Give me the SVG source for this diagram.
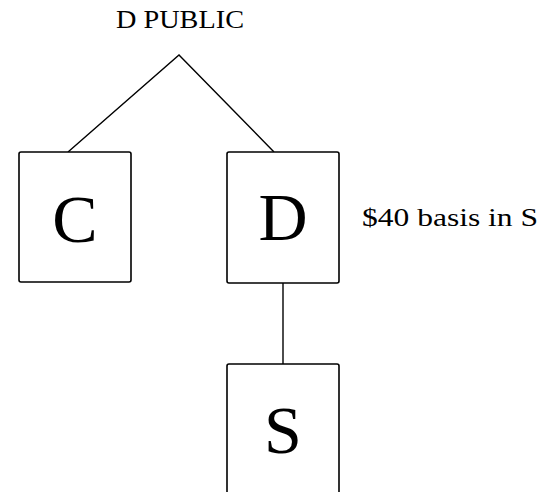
<svg xmlns="http://www.w3.org/2000/svg" width="542" height="492" viewBox="0 0 542 492">
<style>
.box{fill:#fff;stroke:#000;stroke-width:1.6}
.ln{fill:none;stroke:#000;stroke-width:1.4}
.big{font-family:"Liberation Serif",serif;font-size:68px;text-anchor:middle;fill:#000}
.lbl{font-family:"Liberation Serif",serif;font-size:25px;fill:#000}
</style>
<rect width="542" height="492" fill="#fff"/>
<g id="connectors">
<polyline class="ln" points="68,152 179,55 274,152"/>
<line class="ln" x1="283" y1="283" x2="283" y2="364"/>
</g>
<g id="top">
<text class="lbl" x="180" y="28" text-anchor="middle" textLength="128" lengthAdjust="spacingAndGlyphs">D PUBLIC</text>
</g>
<g id="nodeC">
<rect class="box" x="19" y="152" width="112" height="130" rx="2"/>
<text class="big" x="75" y="242">C</text>
</g>
<g id="nodeD">
<rect class="box" x="227" y="152" width="112" height="131" rx="2"/>
<text class="big" x="283" y="240">D</text>
<text class="lbl" x="362" y="226" textLength="176" lengthAdjust="spacingAndGlyphs">$40 basis in S</text>
</g>
<g id="nodeS">
<rect class="box" x="227" y="364" width="112" height="140" rx="2"/>
<text class="big" x="283" y="453">S</text>
</g>
</svg>
